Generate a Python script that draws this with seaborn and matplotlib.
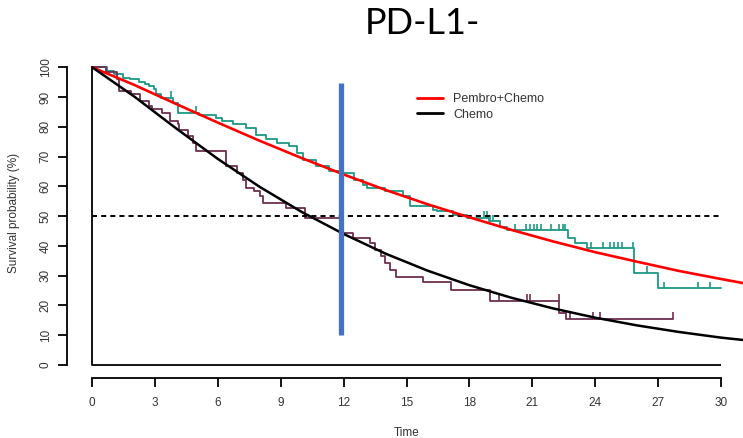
import numpy as np
import matplotlib
matplotlib.use("Agg")
import matplotlib.pyplot as plt
import seaborn as sns

# ---------------- data ----------------
title = "PD-L1-"
series_names = ["Pembro+Chemo", "Chemo"]

# fitted (smooth) survival curves, % survival at month t
fit_t = [0, 2, 4, 6, 8, 10, 12, 14, 16, 18, 20, 22, 24, 26, 28, 30, 32]
fit_pembro = [100, 94.1, 87.7, 81.4, 75.3, 69.5, 64.0, 58.8, 54.0, 49.6,
              45.4, 41.5, 37.9, 34.7, 31.6, 28.9, 26.3]
fit_chemo = [100, 90.2, 79.5, 69.2, 59.8, 51.4, 44.0, 37.4, 31.7, 26.8,
             22.6, 19.0, 15.9, 13.3, 11.1, 9.2, 7.7]

# Kaplan-Meier step curves (time, survival after the step)
km_pembro_t = [0, 0.7, 1.05, 1.45, 1.8, 2.25, 2.5, 2.7, 2.95, 3.05, 3.3, 3.85,
               4.08, 5.1, 5.9, 6.2, 6.7, 7.35, 7.8, 8.3, 8.8, 9.4, 9.75, 10.05,
               10.7, 11.3, 11.8, 12.5, 12.9, 13.1, 13.97, 14.85, 15.17, 16.28,
               16.44, 17.24, 17.88, 18.95, 19.47, 19.79, 22.7, 23.05, 23.6,
               25.85, 26.98, 30.0]
km_pembro_s = [100, 98.8, 97.6, 96.5, 96.0, 95.0, 94.3, 93.7, 92.6, 90.9, 89.8,
               88.1, 84.7, 84.0, 83.0, 81.9, 80.8, 79.7, 77.4, 75.8, 74.6, 73.5,
               71.3, 69.0, 66.8, 65.1, 64.5, 62.0, 60.6, 59.5, 58.4, 56.7, 53.3,
               52.2, 51.6, 50.5, 49.4, 48.3, 46.5, 45.2, 42.5, 41.0, 39.2, 31.0,
               25.7, 25.7]
cens_pembro_t = [3.76, 4.96, 18.7, 18.85, 19.0, 19.15, 20.2, 20.7, 20.9, 21.1,
                 21.25, 21.4, 21.9, 22.3, 22.45, 22.55, 23.8, 24.4, 24.7, 24.9,
                 25.1, 25.3, 25.8, 26.5, 27.3, 28.9, 29.5]

km_chemo_t = [0, 0.65, 1.2, 1.3, 1.85, 2.3, 2.7, 2.85, 3.35, 3.7, 4.1, 4.15,
              4.55, 4.8, 4.96, 6.4, 6.9, 7.2, 7.35, 7.7, 8.0, 8.15, 9.27, 10.15,
              11.95, 12.45, 13.25, 13.5, 13.8, 13.97, 14.2, 14.5, 15.8, 17.1,
              19.0, 22.3, 22.6, 27.7]
km_chemo_s = [100, 98.4, 96.0, 92.0, 90.9, 88.7, 87.0, 85.9, 84.7, 81.9, 80.8,
              79.1, 76.9, 74.6, 71.8, 66.8, 64.5, 62.3, 59.5, 58.4, 56.7, 54.4,
              52.8, 49.4, 44.2, 42.6, 41.0, 38.7, 36.5, 34.2, 32.0, 29.7, 28.0,
              25.3, 21.6, 17.6, 15.4, 15.4]
cens_chemo_t = [19.4, 20.75, 20.9, 22.28, 22.8, 23.9, 24.25, 27.7]

median_level = 50
landmark_time = 11.87
landmark_range = [10.1, 94.6]

x_ticks = [0, 3, 6, 9, 12, 15, 18, 21, 24, 27, 30]
y_ticks = [0, 10, 20, 30, 40, 50, 60, 70, 80, 90, 100]

# ---------------- style ----------------
sns.set_style("white")
plt.rcParams["font.family"] = ["Liberation Sans", "DejaVu Sans"]

C_TEAL = "#1b9985"
C_MAROON = "#6d2f4e"
C_RED = "#ff0000"
C_BLACK = "#000000"
C_BLUE = "#4472c4"

W_PX, H_PX = 743, 438
fig = plt.figure(figsize=(W_PX / 100, H_PX / 100), dpi=100)
left_px, right_px, top_px, bot_px = 67.3, 743, 60, 378
ax = fig.add_axes([left_px / W_PX, 1 - bot_px / H_PX,
                   (right_px - left_px) / W_PX, (bot_px - top_px) / H_PX])
ax.set_xlim(-1.19, 31.06)
ax.set_ylim(-4.37, 102.45)


def step_level(ts, ss, ct):
    ts = np.asarray(ts)
    ss = np.asarray(ss)
    idx = np.searchsorted(ts, np.asarray(ct), side="right") - 1
    return ss[idx]


# KM step curves
sns.lineplot(x=km_pembro_t, y=km_pembro_s, ax=ax, color=C_TEAL, lw=1.3,
             drawstyle="steps-post", estimator=None, sort=False, legend=False)
sns.lineplot(x=km_chemo_t, y=km_chemo_s, ax=ax, color=C_MAROON, lw=1.3,
             drawstyle="steps-post", estimator=None, sort=False, legend=False)

# censoring ticks
cp = step_level(km_pembro_t, km_pembro_s, cens_pembro_t)
ax.vlines(cens_pembro_t, cp, cp + 2.2, color=C_TEAL, lw=1.2)
cc = step_level(km_chemo_t, km_chemo_s, cens_chemo_t)
ax.vlines(cens_chemo_t, cc, cc + 2.3, color=C_MAROON, lw=1.2)

# median dashed line
ax.hlines(median_level, x_ticks[0], x_ticks[-1], color="black", lw=1.4,
          linestyles=(0, (2.6, 2.1)))

# fitted curves
sns.lineplot(x=fit_t, y=fit_pembro, ax=ax, color=C_RED, lw=1.9,
             label=series_names[0], estimator=None)
sns.lineplot(x=fit_t, y=fit_chemo, ax=ax, color=C_BLACK, lw=1.8,
             label=series_names[1], estimator=None)

# landmark vertical line
ax.vlines(landmark_time, landmark_range[0], landmark_range[1], color=C_BLUE,
          lw=3.8, zorder=5)

# L-shaped frame (R style)
ax.plot([x_ticks[0], x_ticks[0], x_ticks[-1]], [y_ticks[-1], y_ticks[0], y_ticks[0]],
        color="black", lw=1.3, solid_capstyle="butt", zorder=4)

# axes (R style, detached)
for s in ["top", "right"]:
    ax.spines[s].set_visible(False)
for s in ["left", "bottom"]:
    ax.spines[s].set_linewidth(1.3)
    ax.spines[s].set_color("black")
ax.spines["left"].set_bounds(y_ticks[0], y_ticks[-1])
ax.spines["bottom"].set_bounds(x_ticks[0], x_ticks[-1])

ax.set_xticks(x_ticks)
ax.set_yticks(y_ticks)
ax.set_xticklabels([str(v) for v in x_ticks])
ax.set_yticklabels([str(v) for v in y_ticks])
ax.tick_params(axis="both", direction="out", length=6.2, width=1.3,
               color="black", labelsize=8.5, labelcolor="#333333",
               bottom=True, left=True, top=False, right=False)
ax.tick_params(axis="x", pad=7.5)
ax.tick_params(axis="y", pad=5, labelrotation=90)
for lab in ax.get_yticklabels():
    lab.set_va("center")

ax.set_xlabel("Time", fontsize=8.5, color="#333333")
ax.xaxis.set_label_coords((15 + 1.19) / 32.25, -0.155)
ax.set_ylabel("Survival probability (%)", fontsize=8.5, color="#333333")
ax.yaxis.set_label_coords(-0.07, 0.519)

leg = ax.legend(loc="upper left", bbox_to_anchor=(0.5175, 0.895), frameon=False,
                fontsize=9, handlelength=2.1, handletextpad=0.8,
                labelspacing=0.25, borderpad=0, borderaxespad=0)
for t in leg.get_texts():
    t.set_color("#333333")
for h in leg.get_lines():
    h.set_linewidth(2.0)

fig.text(422 / W_PX, 1 - 23 / H_PX, title, ha="center", va="center",
         fontsize=26, family=["Lato", "DejaVu Sans"], color="black")

fig.savefig("out.png", dpi=100)
